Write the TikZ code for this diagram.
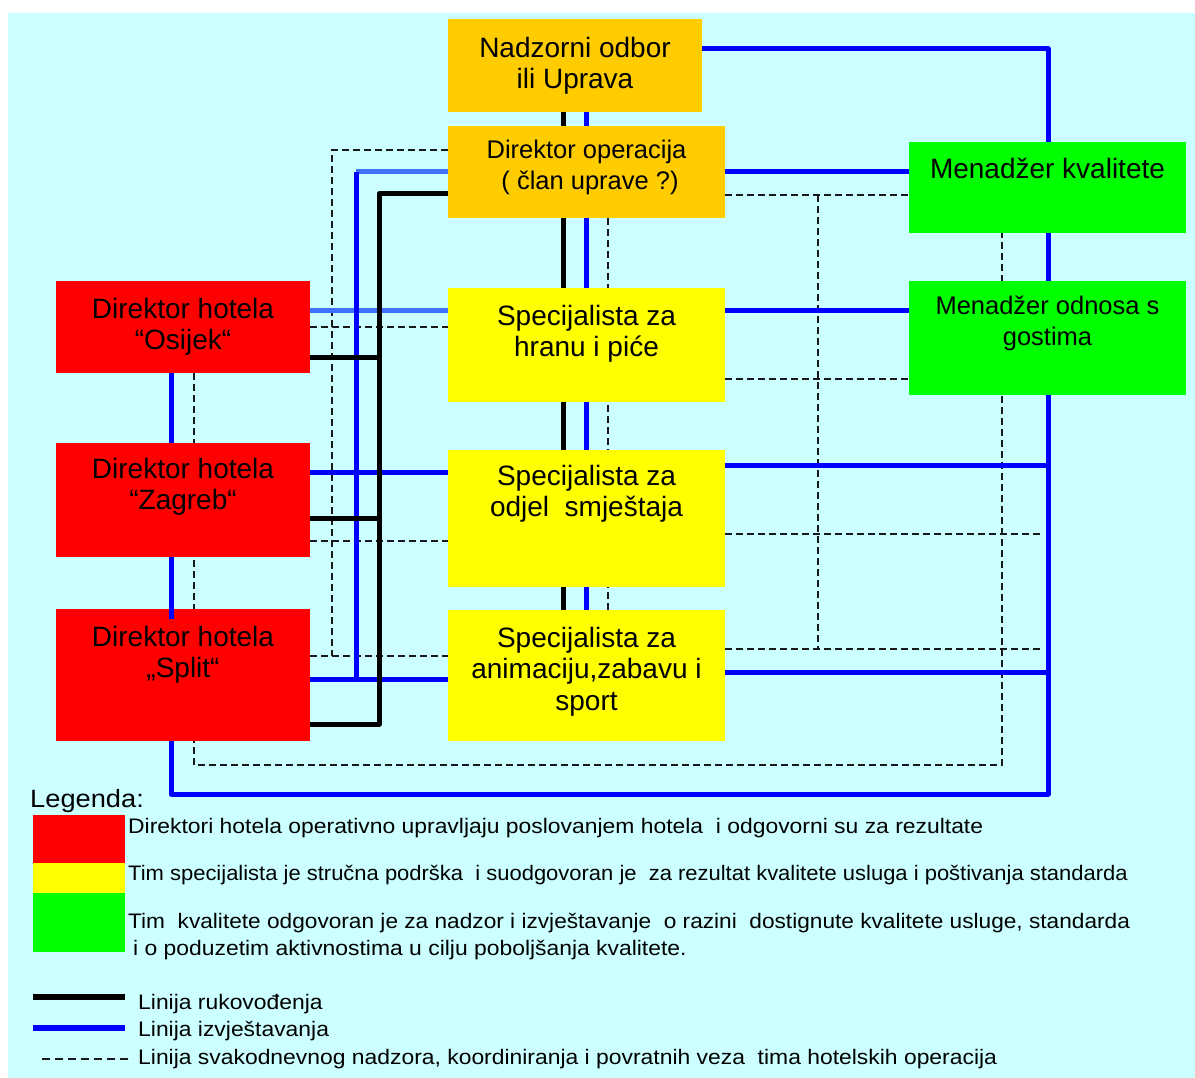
\documentclass[tikz,border=0pt]{standalone}
\usepackage{fontspec}
\setmainfont{Liberation Sans}
\newfontfamily\legfont[FakeStretch=1.09]{Liberation Sans}
\pgfdeclarelayer{bgl}
\pgfdeclarelayer{lines}
\pgfsetlayers{bgl,lines,main}
\definecolor{bgcyan}{RGB}{204,255,255}
\definecolor{orng}{RGB}{255,204,0}
\definecolor{rd}{RGB}{255,0,0}
\definecolor{yl}{RGB}{255,255,0}
\definecolor{gr}{RGB}{0,255,0}
\definecolor{bl}{RGB}{0,0,255}
\definecolor{lbl}{RGB}{64,112,255}
\definecolor{dsh}{RGB}{25,25,25}
\begin{document}
\begin{tikzpicture}[x=1pt,y=-1pt,
  box/.style={rectangle, inner sep=0pt, outer sep=0pt, anchor=north west, draw=none},
  bigtxt/.style={align=center, inner sep=0pt, anchor=north, font=\fontsize{28}{31.5}\selectfont},
  medtxt/.style={align=center, inner sep=0pt, anchor=north, font=\fontsize{25.5}{30.5}\selectfont},
  lead/.style={line width=5pt, black, line join=round},
  rep/.style={line width=5pt, bl, line join=round},
  lrep/.style={line width=5pt, lbl},
  supv/.style={line width=2pt, dsh, dash pattern=on 7pt off 4pt},
  legtxt/.style={anchor=base west, inner sep=0pt, font=\legfont\fontsize{21}{24}\selectfont},
]
\useasboundingbox (0,0) rectangle (1195,1078);
\begin{pgfonlayer}{bgl}
\fill[white] (0,0) rectangle (1195,1078);
\fill[bgcyan] (8,13) rectangle (1195,1078);
\end{pgfonlayer}

% boxes
\node[box, fill=orng, minimum width=254pt, minimum height=93pt] (nad) at (448,19) {};
\node[box, fill=orng, minimum width=277pt, minimum height=92pt] (dirop) at (448,126) {};
\node[box, fill=gr, minimum width=277pt, minimum height=91pt] (mk) at (909,142) {};
\node[box, fill=gr, minimum width=277pt, minimum height=114pt] (mo) at (909,281) {};
\node[box, fill=rd, minimum width=254pt, minimum height=92pt] (osijek) at (56,281) {};
\node[box, fill=rd, minimum width=254pt, minimum height=114pt] (zagreb) at (56,443) {};
\node[box, fill=rd, minimum width=254pt, minimum height=132pt] (split) at (56,609) {};
\node[box, fill=yl, minimum width=277pt, minimum height=114pt] (hrana) at (448,288) {};
\node[box, fill=yl, minimum width=277pt, minimum height=137pt] (odjel) at (448,450) {};
\node[box, fill=yl, minimum width=277pt, minimum height=131pt] (anim) at (448,610) {};

% texts
\node[bigtxt] (nad-t) at (575,37) {Nadzorni odbor\\ili Uprava};
\node[medtxt] (dirop-t) at (586.5,140) {Direktor operacija\\\mbox{}\ ( član uprave ?)};
\node[bigtxt] (mk-t) at (1047.5,158) {Menadžer kvalitete};
\node[medtxt] (mo-t) at (1047.5,296) {Menadžer odnosa s\\gostima};
\node[bigtxt] (osijek-t) at (183,298) {Direktor hotela\\“Osijek“};
\node[bigtxt] (zagreb-t) at (183,458) {Direktor hotela\\“Zagreb“};
\node[bigtxt] (split-t) at (183,626) {Direktor hotela\\„Split“};
\node[bigtxt] (hrana-t) at (586.5,305) {Specijalista za\\hranu i piće};
\node[bigtxt] (odjel-t) at (586.5,465) {Specijalista za\\odjel~ smještaja};
\node[bigtxt] (anim-t) at (586.5,627) {Specijalista za\\animaciju,zabavu i\\sport};

% helper coordinates
\coordinate (xk) at (563,0);
\coordinate (xb) at (586,0);
\coordinate (xd) at (608,0);
\coordinate (xL) at (171,0);
\coordinate (kA) at (379,194);
\coordinate (kB) at (379,724);
\coordinate (kO) at (379,357);
\coordinate (kZ) at (379,518);
\coordinate (bA) at (356,172);
\coordinate (bB) at (356,679);
\coordinate (yOH) at (0,311);
\coordinate (yZO) at (0,472);
\coordinate (bC) at (171,794);
\coordinate (bD) at (1048,794);
\coordinate (bE) at (1048,49);
\coordinate (bF) at (1048,465);
\coordinate (bG) at (1048,672);
\coordinate (yDM) at (0,172);
\coordinate (dA) at (332,150);
\coordinate (dB) at (332,656);
\coordinate (yD2) at (0,327);
\coordinate (yD3) at (0,541);
\coordinate (dC) at (194,765);
\coordinate (dD) at (1002,765);
\coordinate (dE) at (818,195);
\coordinate (dF) at (818,649);
\coordinate (yD7) at (0,379);
\coordinate (dG) at (1040,534);
\coordinate (dH) at (1040,649);
\coordinate (splitover) at (171,619);

\begin{pgfonlayer}{lines}
% dashed
\draw[supv] (dirop.south -| xd) -- (anim.north -| xd);
\draw[supv] (dirop.west |- dA) -- (dA) -- (dB);
\draw[supv] (split.east |- dB) -- (anim.west |- dB);
\draw[supv] (osijek.east |- yD2) -- (hrana.west |- yD2);
\draw[supv] (zagreb.east |- yD3) -- (odjel.west |- yD3);
\draw[supv] (osijek.south -| dC) -- (dC) -- (dD) -- (mk.south -| dD);
\draw[supv] (dirop.east |- dE) -- (mk.west |- dE);
\draw[supv] (dE) -- (dF);
\draw[supv] (hrana.east |- yD7) -- (mo.west |- yD7);
\draw[supv] (odjel.east |- dG) -- (dG);
\draw[supv] (anim.east |- dH) -- (dH);
% light blue
\draw[lrep] (dirop.west |- bA) -- (bA);
\draw[lrep] (osijek.east |- yOH) -- (hrana.west |- yOH);
% blue
\draw[rep] (nad.south -| xb) -- (dirop.north -| xb);
\draw[rep] (dirop.south -| xb) -- (anim.north -| xb);
\draw[rep] (bA) -- (bB);
\draw[rep] (split.east |- bB) -- (anim.west |- bB);
\draw[rep] (zagreb.east |- yZO) -- (odjel.west |- yZO);
\draw[rep] (osijek.south -| xL) -- (zagreb.north -| xL);
\draw[rep] (split.south -| bC) -- (bC) -- (bD) -- (mo.south -| bD);
\draw[rep] (nad.east |- bE) -- (bE) -- (mk.north -| bE);
\draw[rep] (mk.south -| bE) -- (mo.north -| bE);
\draw[rep] (dirop.east |- yDM) -- (mk.west |- yDM);
\draw[rep] (hrana.east |- yOH) -- (mo.west |- yOH);
\draw[rep] (odjel.east |- bF) -- (bF);
\draw[rep] (anim.east |- bG) -- (bG);
% black
\draw[lead] (nad.south -| xk) -- (dirop.north -| xk);
\draw[lead] (dirop.south -| xk) -- (anim.north -| xk);
\draw[lead] (dirop.west |- kA) -- (kA) -- (kB) -- (split.east |- kB);
\draw[lead] (osijek.east |- kO) -- (kO);
\draw[lead] (zagreb.east |- kZ) -- (kZ);
\end{pgfonlayer}
\draw[rep] (zagreb.south -| xL) -- (splitover);

% legend
\node[anchor=base west, inner sep=0pt, font=\legfont\fontsize{25}{28}\selectfont] (leg) at (30,807) {Legenda:};
\node[box, fill=rd, minimum width=92pt, minimum height=48pt] (swr) at (33,815) {};
\node[box, fill=yl, minimum width=92pt, minimum height=30pt] (swy) at (33,863) {};
\node[box, fill=gr, minimum width=92pt, minimum height=59pt] (swg) at (33,893) {};
\node[legtxt] (l1) at (128,833) {Direktori hotela operativno upravljaju poslovanjem hotela~ i odgovorni su za rezultate};
\node[legtxt] (l2) at (128,880) {\scalebox{0.96}[1]{Tim specijalista je stručna podrška~ i suodgovoran je~ za rezultat kvalitete usluga i poštivanja standarda}};
\node[legtxt] (l3) at (128,928) {\scalebox{0.99}[1]{Tim~ kvalitete odgovoran je za nadzor i izvještavanje~ o razini~ dostignute kvalitete usluge, standarda}};
\node[legtxt] (l4) at (133,955) {i o poduzetim aktivnostima u cilju poboljšanja kvalitete.};
\coordinate (lgA1) at (33,997);
\coordinate (lgA2) at (125,997);
\coordinate (lgB1) at (33,1028);
\coordinate (lgB2) at (125,1028);
\coordinate (lgC1) at (42,1059);
\coordinate (lgC2) at (133,1059);
\draw[line width=6pt, black] (lgA1) -- (lgA2);
\draw[line width=6pt, bl] (lgB1) -- (lgB2);
\draw[line width=2.2pt, dsh, dash pattern=on 8pt off 5pt] (lgC1) -- (lgC2);
\node[legtxt] (lt1) at (138,1009) {Linija rukovođenja};
\node[legtxt] (lt2) at (138,1036) {Linija izvještavanja};
\node[legtxt] (lt3) at (138,1064) {Linija svakodnevnog nadzora, koordiniranja i povratnih veza~ tima hotelskih operacija};
\end{tikzpicture}
\end{document}
